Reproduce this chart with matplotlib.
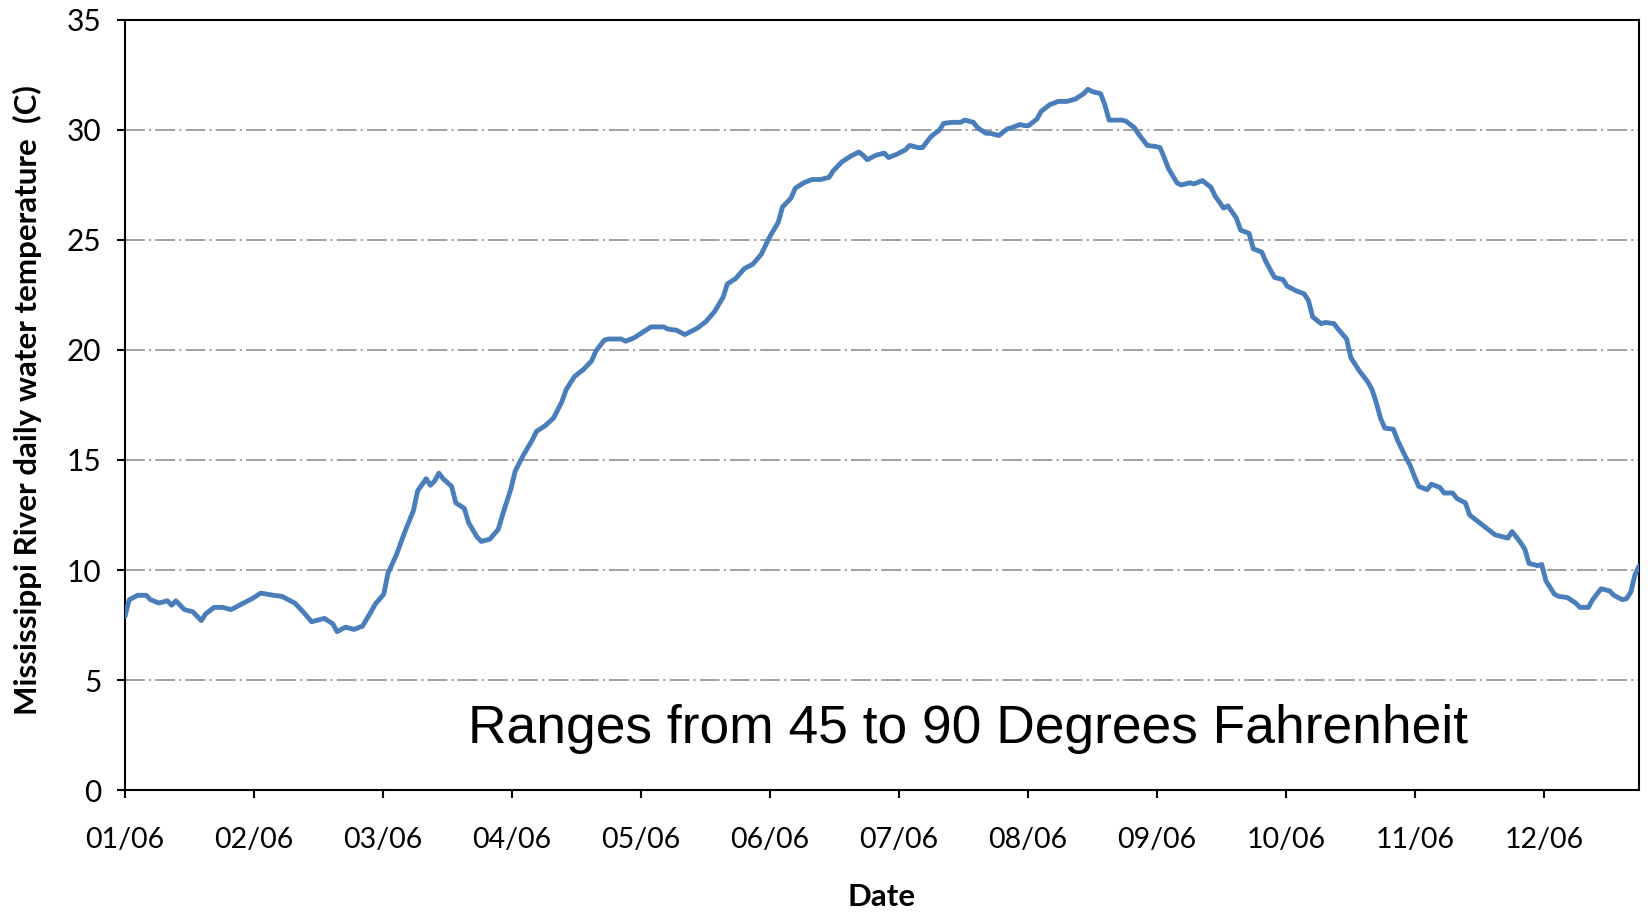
import matplotlib

matplotlib.use("Agg")
import matplotlib.pyplot as plt
import numpy as np

# day of year (0 = Jan 1, 2006) and daily water temperature [C]
DAYS = [0, 1, 3, 5, 6, 8, 10, 11, 12, 14, 16, 18, 19, 21, 23, 25, 28, 30, 32, 35,
        37, 40, 42, 44, 47, 49, 50, 52, 54, 56, 58, 59, 61, 62, 64, 66, 68, 69, 71, 72,
        73, 74, 75, 77, 78, 80, 81, 83, 84, 86, 88, 89, 91, 92, 94, 96, 97, 99, 101, 103,
        104, 106, 108, 110, 111, 113, 114, 117, 118, 120, 122, 124, 127, 128, 130, 132, 133, 135, 137, 139,
        141, 142, 144, 146, 148, 150, 151, 152, 154, 155, 157, 158, 160, 162, 164, 166, 167, 169, 171, 173,
        174, 175, 177, 179, 180, 182, 184, 185, 187, 188, 190, 192, 193, 195, 197, 198, 200, 201, 203, 204,
        206, 208, 209, 211, 212, 213, 215, 216, 218, 220, 222, 224, 226, 227, 228, 230, 231, 232, 235, 236,
        238, 239, 241, 243, 244, 245, 246, 248, 249, 251, 252, 254, 256, 257, 259, 260, 262, 263, 265, 266,
        268, 269, 271, 273, 274, 276, 278, 279, 280, 282, 283, 285, 286, 288, 289, 291, 293, 294, 295, 296,
        297, 299, 300, 302, 303, 304, 305, 307, 308, 310, 311, 313, 314, 316, 317, 319, 320, 322, 323, 325,
        326, 327, 329, 330, 331, 333, 334, 335, 337, 338, 340, 342, 343, 345, 346, 348, 350, 351, 353, 354,
        355, 356, 357]
TEMP_C = [7.9, 8.65, 8.85, 8.85, 8.65, 8.5, 8.6, 8.4, 8.6, 8.2, 8.1, 7.7, 8.0, 8.3, 8.3, 8.2, 8.5, 8.7, 8.95, 8.85,
          8.8, 8.5, 8.1, 7.65, 7.8, 7.55, 7.2, 7.4, 7.3, 7.45, 8.1, 8.45, 8.9, 9.85, 10.7, 11.75, 12.7, 13.6, 14.15, 13.85,
          14.05, 14.4, 14.15, 13.8, 13.05, 12.8, 12.15, 11.5, 11.3, 11.4, 11.85, 12.5, 13.7, 14.5, 15.25, 15.9, 16.3, 16.55, 16.9, 17.65,
          18.2, 18.8, 19.1, 19.5, 19.95, 20.45, 20.5, 20.5, 20.4, 20.55, 20.8, 21.05, 21.05, 20.95, 20.9, 20.7, 20.8, 21.0, 21.3, 21.75,
          22.4, 23.0, 23.25, 23.7, 23.9, 24.35, 24.75, 25.15, 25.8, 26.5, 26.9, 27.35, 27.6, 27.75, 27.75, 27.85, 28.15, 28.55, 28.8, 29.0,
          28.85, 28.65, 28.85, 28.95, 28.75, 28.9, 29.1, 29.3, 29.2, 29.2, 29.7, 30.0, 30.3, 30.35, 30.35, 30.45, 30.35, 30.1, 29.85, 29.85,
          29.75, 30.05, 30.1, 30.25, 30.2, 30.2, 30.5, 30.85, 31.15, 31.3, 31.3, 31.4, 31.65, 31.85, 31.75, 31.65, 31.15, 30.45, 30.45, 30.4,
          30.1, 29.8, 29.3, 29.25, 29.2, 28.75, 28.25, 27.6, 27.5, 27.6, 27.55, 27.7, 27.4, 27.0, 26.45, 26.55, 26.0, 25.45, 25.3, 24.6,
          24.45, 24.0, 23.3, 23.2, 22.9, 22.7, 22.55, 22.25, 21.5, 21.2, 21.25, 21.2, 20.95, 20.5, 19.65, 19.05, 18.55, 18.2, 17.6, 16.9,
          16.45, 16.4, 15.9, 15.1, 14.75, 14.25, 13.8, 13.65, 13.9, 13.75, 13.5, 13.5, 13.25, 13.05, 12.5, 12.2, 12.05, 11.75, 11.6, 11.5,
          11.45, 11.75, 11.25, 10.95, 10.3, 10.2, 10.25, 9.5, 8.9, 8.8, 8.75, 8.5, 8.3, 8.3, 8.65, 9.15, 9.05, 8.85, 8.65, 8.7,
          9.0, 9.8, 10.2]
MONTH_LABELS = ["01/06", "02/06", "03/06", "04/06", "05/06", "06/06",
                "07/06", "08/06", "09/06", "10/06", "11/06", "12/06"]
Y_TICKS = [0, 5, 10, 15, 20, 25, 30, 35]

LABEL_FONT = ["Lato", "DejaVu Sans"]
NOTE_FONT = ["Liberation Sans", "DejaVu Sans"]

fig = plt.figure(figsize=(16.49, 9.13), dpi=100)
ax = fig.add_axes([125 / 1649, 1 - 790 / 913, 1514.3 / 1649, 770 / 913])

ax.plot(DAYS, TEMP_C, color="#4A7EBB", lw=3.5, solid_joinstyle="round",
        solid_capstyle="round", zorder=3)

# Excel spaces the monthly ticks evenly
month_pos = np.arange(12) * 365 / 12
ax.set_xticks(month_pos)
ax.set_xticklabels(MONTH_LABELS, family=LABEL_FONT, fontsize=20.5)
ax.set_xlim(0, 357)
ax.set_ylim(0, 35)
ax.set_yticks(Y_TICKS)
ax.set_yticklabels([str(v) for v in Y_TICKS], family=LABEL_FONT, fontsize=21.5)

for v in Y_TICKS[1:-1]:
    ax.axhline(v, color="#868686", lw=1.1, ls=(0, (13, 2.7, 1.4, 2.7)), zorder=1)

for s in ax.spines.values():
    s.set_linewidth(1.5)
ax.tick_params(direction="out", length=6, width=1.5)
ax.tick_params(axis="y", pad=11)
ax.tick_params(axis="x", pad=21)

ax.set_ylabel("Mississippi River daily water temperature  (C)", family=LABEL_FONT,
              fontsize=22.5, fontweight="bold")
ax.yaxis.set_label_coords(-0.0548, 0.506)
fig.text(882 / 1649, 1 - 896.5 / 913, "Date", family=LABEL_FONT, fontsize=22.5,
         fontweight="bold", ha="center", va="center")

ax.text(0.557, 0.0614, "Ranges from 45 to 90 Degrees Fahrenheit", family=NOTE_FONT,
        fontsize=38.4, ha="center", va="baseline", transform=ax.transAxes)

fig.savefig("out.png", dpi=100)
